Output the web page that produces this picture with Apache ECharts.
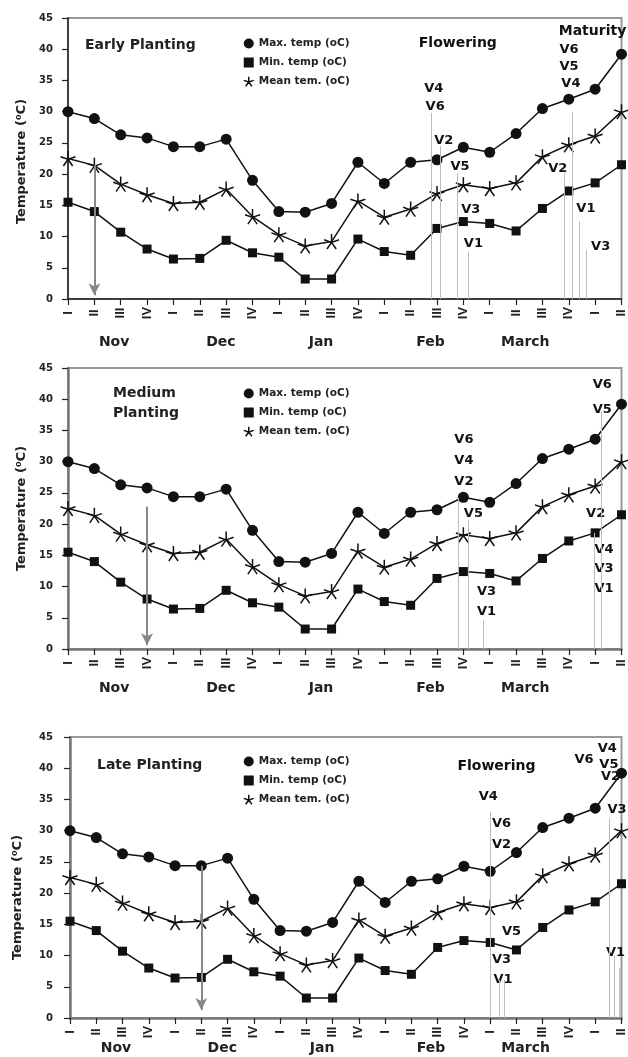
<!DOCTYPE html>
<html>
<head>
<meta charset="UTF-8">
<title>Temperature during planting seasons</title>
<script src="https://cdn.jsdelivr.net/npm/echarts@6.0.0/dist/echarts.min.js"></script>
<style>
  html, body { margin: 0; padding: 0; background: #fff; }
  #chart { width: 628px; height: 1057px; }
</style>
</head>
<body>
<div id="chart"></div>
<script>
// ten-day periods, Nov I ... April II
var periods = ['I','II','III','IV','I','II','III','IV','I','II','III','IV',
               'I','II','III','IV','I','II','III','IV','I','II'];
var months = ['Nov', 'Dec', 'Jan', 'Feb', 'March'];
var monthPos = [1.75, 5.8, 9.6, 13.75, 17.35];

var maxTemp  = [30.0, 28.9, 26.3, 25.8, 24.4, 24.4, 25.6, 19.0, 14.0, 13.9, 15.3,
                21.9, 18.5, 21.9, 22.3, 24.3, 23.5, 26.5, 30.5, 32.0, 33.6, 39.2];
var minTemp  = [15.5, 14.0, 10.7, 8.0, 6.4, 6.5, 9.4, 7.4, 6.7, 3.2, 3.2,
                9.6, 7.6, 7.0, 11.3, 12.4, 12.1, 10.9, 14.5, 17.3, 18.6, 21.5];
var meanTemp = [22.5, 21.4, 18.4, 16.7, 15.3, 15.5, 17.6, 13.2, 10.3, 8.5, 9.2,
                15.7, 13.1, 14.4, 16.9, 18.3, 17.7, 18.6, 22.8, 24.7, 26.1, 30.0];

var seriesNames = ['Max. temp (oC)', 'Min. temp (oC)', 'Mean tem. (oC)'];
var plantings = ['Early Planting', 'Medium\nPlanting', 'Late Planting'];

// sowing arrow: [period, from temp, to temp]
var sowing = [[1, 21.4, 0.6], [3, 22.8, 0.6], [5, 24.4, 1.3]];

// stage lines: [period, top]
var stageLines = [
  [[13.77, 29.8], [14.13, 24.5], [14.75, 20.2], [15.19, 7.6],
   [18.83, 20.2], [19.15, 30.0], [19.39, 12.4], [19.67, 7.8]],
  [[14.82, 24.2], [15.19, 20.7], [15.76, 4.6], [19.96, 18.6], [20.25, 38.0]],
  [[15.99, 33.0], [16.36, 6.1], [16.55, 6.1], [20.52, 32.0], [20.71, 10.0], [20.9, 8.0]]
];

// stage labels: [text, period, temp]
var stageText = [
  [['Flowering', 14.79, 41.0], ['V4', 13.88, 33.7], ['V6', 13.93, 30.8], ['V2', 14.26, 25.4],
   ['V5', 14.87, 21.2], ['V3', 15.28, 14.3], ['V1', 15.38, 8.9],
   ['Maturity', 19.9, 42.8], ['V6', 19.01, 39.9], ['V5', 19.01, 37.2], ['V4', 19.08, 34.5],
   ['V2', 18.58, 20.9], ['V1', 19.65, 14.5], ['V3', 20.21, 8.4]],
  [['V6', 15.02, 33.5], ['V4', 15.02, 30.2], ['V2', 15.02, 26.8], ['V5', 15.38, 21.6],
   ['V3', 15.88, 9.2], ['V1', 15.88, 6.0],
   ['V6', 20.27, 42.3], ['V5', 20.27, 38.4], ['V2', 20.02, 21.7],
   ['V4', 20.34, 15.9], ['V3', 20.34, 12.8], ['V1', 20.34, 9.7]],
  [['Flowering', 16.24, 40.3], ['V4', 15.93, 35.4], ['V6', 16.43, 31.2], ['V2', 16.43, 27.7],
   ['V5', 16.81, 13.8], ['V3', 16.43, 9.3], ['V1', 16.49, 6.2],
   ['V4', 20.46, 43.1], ['V6', 19.57, 41.3], ['V5', 20.52, 40.5], ['V2', 20.58, 38.6],
   ['V3', 20.83, 33.3], ['V1', 20.77, 10.4]]
];

var F = 'DejaVu Sans';
// five-armed asterisk used for the mean series
var star = 'path://M0,-1L0,0M0.951,-0.309L0,0M0.588,0.809L0,0M-0.588,0.809L0,0M-0.951,-0.309L0,0';

var layout = [
  {left: 68, top: 18,  title: 35,  legend: 38,  month: 36, ylab: 15, gap: 38, axis: '#222', namePad: [0, 6, 0, 0]},
  {left: 68, top: 368, title: 383, legend: 388, month: 32, ylab: 15, gap: 38, axis: '#777', namePad: [0, 0, 0, 0]},
  {left: 70, top: 737, title: 755, legend: 756, month: 23, ylab: 17, gap: 46, axis: '#777', namePad: [0, 40, 0, 0]}
];

var option = {
  backgroundColor: '#fff',
  animation: false,
  title: [], legend: [], grid: [], xAxis: [], yAxis: [], series: []
};

layout.forEach(function (L, k) {
  option.grid.push({
    left: L.left, top: L.top, width: 626 - L.left, height: 281,
    show: true, borderColor: '#999', borderWidth: 2
  });
  option.title.push({
    text: plantings[k], left: [85, 113, 97][k], top: L.title, padding: 0,
    textStyle: {fontFamily: F, fontSize: 14, fontWeight: 'bold', color: '#222', lineHeight: 20}
  });
  option.legend.push({
    orient: 'vertical', left: 243, top: L.legend, padding: 0,
    itemWidth: 10, itemHeight: 10, itemGap: 8,
    textStyle: {fontFamily: F, fontSize: 10.5, fontWeight: 'bold', color: '#222'},
    data: [
      {name: seriesNames[0], icon: 'circle'},
      {name: seriesNames[1], icon: 'rect'},
      {name: seriesNames[2], icon: star,
       itemStyle: {color: 'rgba(0,0,0,0)', borderColor: '#111', borderWidth: 1.5}}
    ]
  });
  option.xAxis.push({
    type: 'value', gridIndex: k, min: 0, max: 21, interval: 1,
    axisLine: {lineStyle: {color: L.axis, width: k ? 2.5 : 1.5}},
    axisTick: {length: 6, lineStyle: {color: '#222', width: 1.2}},
    splitLine: {show: false},
    axisLabel: {
      rotate: 90, align: 'center', verticalAlign: 'middle', margin: 14,
      showMinLabel: true, showMaxLabel: true,
      fontFamily: 'Liberation Sans', fontSize: 13, fontWeight: 'bold', color: '#222',
      formatter: function (v) { return periods[v] || ''; }
    }
  });
  option.xAxis.push({
    type: 'value', gridIndex: k, min: 0, max: 21, position: 'bottom',
    axisLine: {show: false}, axisTick: {show: false}, splitLine: {show: false},
    axisLabel: {
      customValues: monthPos, margin: L.month,
      fontFamily: F, fontSize: 14, fontWeight: 'bold', color: '#222',
      formatter: function (v) { return months[monthPos.indexOf(v)] || ''; }
    }
  });
  option.yAxis.push({
    type: 'value', gridIndex: k, min: 0, max: 45, interval: 5,
    name: 'Temperature (\u2070C)', nameLocation: 'middle', nameGap: L.gap,
    nameTextStyle: {fontFamily: F, fontSize: 13, fontWeight: 'bold', color: '#222', padding: L.namePad},
    axisLine: {show: true, lineStyle: {color: L.axis, width: k ? 2.5 : 1.5}},
    axisTick: {show: true, length: 6, lineStyle: {color: '#222', width: 1.2}},
    splitLine: {show: false},
    axisLabel: {margin: L.ylab, fontFamily: F, fontSize: 10, fontWeight: 'bold', color: '#222'}
  });

  var pts = function (arr) { return arr.map(function (v, i) { return [i, v]; }); };
  option.series.push({
    type: 'line', name: seriesNames[0], xAxisIndex: 2 * k, yAxisIndex: k,
    data: pts(maxTemp), symbol: 'circle', symbolSize: 11,
    lineStyle: {color: '#111', width: 1.5}, itemStyle: {color: '#111'}, z: 3
  });
  option.series.push({
    type: 'line', name: seriesNames[1], xAxisIndex: 2 * k, yAxisIndex: k,
    data: pts(minTemp), symbol: 'rect', symbolSize: 9,
    lineStyle: {color: '#111', width: 1.5}, itemStyle: {color: '#111'}, z: 3
  });
  option.series.push({
    type: 'line', name: seriesNames[2], xAxisIndex: 2 * k, yAxisIndex: k,
    data: pts(meanTemp), symbol: star, symbolSize: 15,
    lineStyle: {color: '#111', width: 1.5},
    itemStyle: {color: 'rgba(0,0,0,0)', borderColor: '#111', borderWidth: 1.5}, z: 3
  });

  var s = sowing[k];
  var lines = stageLines[k].map(function (l) {
    return [{coord: [l[0], l[1]]}, {coord: [l[0], 0]}];
  });
  lines.push([
    {coord: [s[0], s[1]], symbol: 'none', lineStyle: {color: '#888', width: 2}},
    {coord: [s[0], s[2]], symbol: 'arrow', symbolSize: [9, 12], lineStyle: {color: '#888', width: 2}}
  ]);
  option.series.push({
    type: 'scatter', xAxisIndex: 2 * k, yAxisIndex: k, symbolSize: 0, silent: true, z: 4,
    itemStyle: {opacity: 1},
    data: stageText[k].map(function (t) {
      return {name: t[0], value: [t[1], t[2]], label: {fontSize: t[0].length > 2 ? 14 : 13}};
    }),
    label: {show: true, position: 'inside', formatter: '{b}', opacity: 1,
            fontFamily: F, fontWeight: 'bold', color: '#111'},
    markLine: {
      silent: true, symbol: ['none', 'none'], label: {show: false},
      lineStyle: {color: '#bbb', width: 1, type: 'solid', opacity: 1},
      data: lines
    }
  });
});

var chart = echarts.init(document.getElementById('chart'));
chart.setOption(option);
</script>
</body>
</html>
